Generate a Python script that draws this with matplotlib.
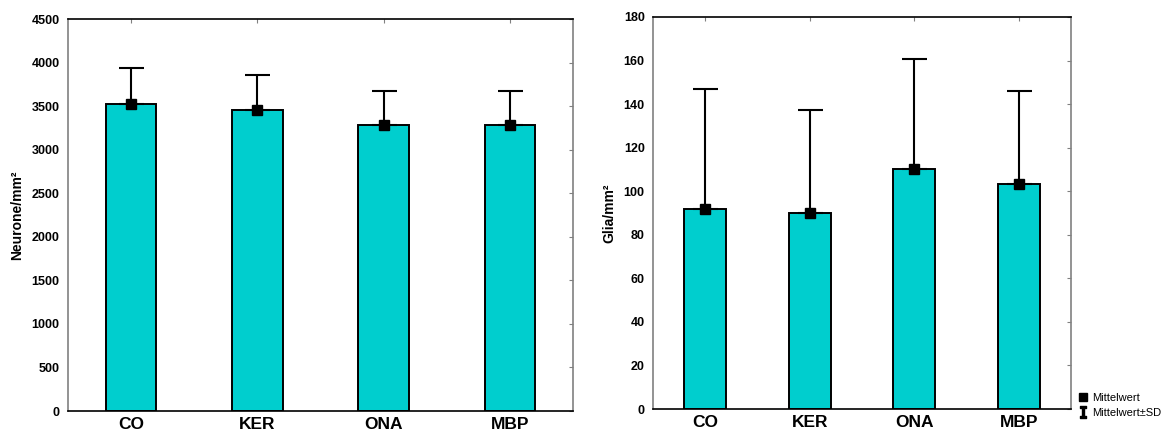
import matplotlib
matplotlib.use("Agg")
import matplotlib.pyplot as plt
from matplotlib.lines import Line2D
import numpy as np

plt.rcParams['font.family'] = ['Liberation Sans', 'DejaVu Sans']

groups = ["CO", "KER", "ONA", "MBP"]

neuron_mean = [3520, 3450, 3280, 3280]
neuron_sd = [420, 410, 390, 390]

glia_mean = [92, 90, 110, 103.5]
glia_sd = [55, 47.5, 50.5, 42.5]

BAR_COLOR = '#00CECE'


def draw_panel(ax, means, sds, ylabel, ymax, ystep):
    x = np.arange(len(groups))
    ax.bar(x, means, width=0.4, color=BAR_COLOR, edgecolor='black', linewidth=1.4, zorder=2)
    ax.errorbar(x, means, yerr=[np.zeros(len(sds)), sds], fmt='s', color='black',
                markersize=7, elinewidth=1.5, capsize=9, capthick=1.5, zorder=3)
    ax.set_xlim(-0.5, len(groups) - 0.5)
    ax.set_ylim(0, ymax)
    ax.set_yticks(np.arange(0, ymax + 1, ystep))
    ax.set_xticks(x)
    ax.set_xticklabels(groups, fontsize=12.5, fontweight='bold')
    for lbl in ax.get_yticklabels():
        lbl.set_fontweight('bold')
        lbl.set_fontsize(9)
    ax.set_ylabel(ylabel, fontsize=10, fontweight='bold', labelpad=5)
    ax.tick_params(axis='y', left=False, right=True, direction='in', length=3,
                   color='#808080', pad=6)
    ax.tick_params(axis='x', bottom=False, top=True, direction='in', length=3,
                   color='#808080', pad=4)
    ax.spines['left'].set_color('#808080')
    ax.spines['right'].set_color('#808080')
    for s in ax.spines.values():
        s.set_linewidth(1.2)


fig = plt.figure(figsize=(11.71, 4.34), dpi=100)
ax1 = fig.add_axes([68 / 1171, 23 / 434, 505 / 1171, 392 / 434])
ax2 = fig.add_axes([653 / 1171, 25 / 434, 418 / 1171, 392 / 434])

draw_panel(ax1, neuron_mean, neuron_sd, 'Neurone/mm²', 4500, 500)
draw_panel(ax2, glia_mean, glia_sd, 'Glia/mm²', 180, 20)

handles = [
    Line2D([], [], marker='s', color='black', ls='none', markersize=6),
    Line2D([], [], marker=r'$\mathtt{I}$', color='black', ls='none', markersize=8),
]
fig.legend(handles, ['Mittelwert', 'Mittelwert±SD'], loc='lower left',
           bbox_to_anchor=(1070 / 1171, 8 / 434), frameon=False, fontsize=8,
           handlelength=1.0, handletextpad=0.3, labelspacing=0.45, borderpad=0.2)

fig.savefig("out.png", dpi=100)
